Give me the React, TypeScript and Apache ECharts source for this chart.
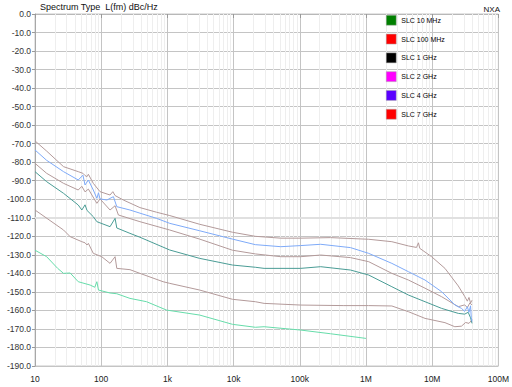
import React, { useEffect, useRef } from "react";
import * as echarts from "echarts";

const seriesNames = ["SLC 10 MHz", "SLC 100 MHz", "SLC 1 GHz", "SLC 2 GHz", "SLC 4 GHz", "SLC 7 GHz"];
const legendColors = ["#008000", "#ff0000", "#000000", "#ff00ff", "#5a00ff", "#ff0000"];
const lineColors = ["#66dcaa", "#b39a9a", "#4a9c95", "#b39a9a", "#7eaaf8", "#b39a9a"];

const xTickLabels = ["10", "100", "1k", "10k", "100k", "1M", "10M", "100M"];

// SLC 10 MHz
const f10M = [10, 15, 22, 27, 34, 45, 68, 80, 86, 91, 136, 172, 272, 485, 968, 3070, 9620, 21300, 28900, 103000, 292000, 1000000];
const v10M = [-127.5, -131, -137.3, -140, -139.8, -144.5, -146.3, -147.5, -144.5, -149, -150.6, -151, -153.5, -155.3, -159.8, -162.5, -167.5, -169.1, -168.8, -170.6, -172.6, -175.1];

// SLC 100 MHz
const f100M = [10, 27, 34, 51, 57, 61, 64, 76, 102, 136, 162, 172, 272, 385, 861, 1087, 3070, 9620, 21300, 28900, 103000, 463000, 1100000, 2460000, 4380000, 7800000, 15600000, 22000000, 27700000, 32000000, 36000000, 40000000];
const v100M = [-105.8, -116.6, -120.2, -122.9, -123.5, -124.7, -123.8, -129.2, -131, -134.6, -131, -137.3, -138, -140, -144.5, -145.4, -149, -154, -155.3, -156.2, -157.1, -157.4, -157.4, -157.6, -160.7, -164.3, -166.6, -168.8, -168.5, -166.5, -167, -165];

// SLC 1 GHz
const f1G = [10, 15, 27, 45, 51, 57, 61, 76, 86, 136, 162, 172, 272, 385, 1087, 3070, 9620, 21300, 28900, 103000, 207000, 584000, 1100000, 2460000, 4380000, 7800000, 13900000, 24800000, 31000000, 35000000, 38000000, 40000000];
const v1G = [-85.1, -90.5, -96.8, -103.1, -105.8, -103, -106, -109.4, -112.1, -114.8, -110.3, -115.5, -118.4, -120.5, -127.4, -131.9, -135.5, -136.7, -137.3, -137.3, -136.4, -138.2, -140.9, -147.2, -151.7, -155.3, -158.9, -161.6, -162, -161, -164, -167];

// SLC 2 GHz
const f2G = [10, 15, 27, 45, 51, 57, 64, 86, 96, 136, 162, 182, 385, 1087, 3070, 9620, 21300, 51700, 103000, 207000, 584000, 1100000, 2460000, 4380000, 7800000, 13900000, 24800000, 31000000, 34000000, 37000000, 40000000];
const v2G = [-80.6, -86, -91.4, -95, -93, -96, -94.5, -102.2, -99.8, -105.8, -103.5, -108.5, -112.1, -116.6, -121.5, -127.5, -129.5, -131, -131, -130.1, -131.5, -133.7, -140, -143.6, -148, -152.6, -158, -157, -158.5, -156, -157];

// SLC 4 GHz
const f4G = [10, 15, 27, 45, 53, 57, 64, 76, 86, 91, 96, 122, 153, 172, 272, 385, 686, 1087, 3070, 9620, 21300, 51700, 103000, 207000, 584000, 1100000, 2460000, 4380000, 7800000, 13900000, 22000000, 27700000, 31000000, 34000000, 36000000, 38000000, 39000000, 40000000];
const v4G = [-73.4, -79, -85.1, -89.6, -87, -92.3, -89.6, -95, -99.5, -96.5, -99.8, -100.4, -98.6, -104, -105.8, -107.5, -110.3, -113, -117, -121.5, -124.5, -125.6, -125, -124.3, -126.1, -129.2, -134.6, -139.1, -143.6, -149.9, -157, -158.9, -160.5, -158, -161, -157.5, -164, -166];

// SLC 7 GHz
const f7G = [10, 15, 27, 45, 53, 57, 61, 64, 76, 96, 136, 150, 162, 216, 385, 686, 1087, 3070, 9620, 21300, 51700, 103000, 292000, 1100000, 2460000, 4380000, 5800000, 6200000, 6500000, 9800000, 15600000, 24800000, 31200000, 34000000, 36000000, 38000000, 40000000];
const v7G = [-68.5, -74, -82.4, -85.1, -86, -87.2, -87.8, -86.5, -91.4, -95.9, -97.7, -95.9, -98, -100.4, -104.5, -107, -108.8, -113.5, -117.8, -120, -121, -121, -120.7, -121.6, -122.9, -125.2, -126, -123.5, -126.5, -131, -137.3, -146.8, -152.6, -155, -153, -156, -154.5];

const freqs = [f10M, f100M, f1G, f2G, f4G, f7G];
const values = [v10M, v100M, v1G, v2G, v4G, v7G];

const FONT = "Liberation Sans, Arial, sans-serif";

export default function App() {
  const ref = useRef<HTMLDivElement>(null);
  useEffect(() => {
    if (!ref.current) return;
    const chart = echarts.init(ref.current, null, { renderer: "svg" });

    const minorX: any[] = [];
    for (let d = 10; d < 1e8; d *= 10) {
      for (let k = 2; k <= 9; k++) minorX.push({ xAxis: d * k });
    }

    const series: any[] = seriesNames.map((name, i) => ({
      name,
      type: "line",
      data: freqs[i].map((f, j) => [f, values[i][j]]),
      showSymbol: false,
      symbol: "none",
      lineStyle: { color: lineColors[i], width: 1 },
      itemStyle: { color: lineColors[i] },
      z: 8,
    }));
    series.push({
      name: "grid",
      type: "line",
      data: [[10, null]],
      z: 1,
      silent: true,
      markLine: {
        silent: true,
        symbol: "none",
        label: { show: false },
        animation: false,
        lineStyle: { color: "#eeeeee", width: 1, type: "solid" },
        data: [
          ...minorX,
          { yAxis: -110, lineStyle: { color: "#e0e0e0", width: 2, type: "solid" } },
        ],
      },
    });

    chart.setOption({
      animation: false,
      backgroundColor: "#ffffff",
      textStyle: { fontFamily: FONT },
      title: [
        {
          text: "Spectrum Type  L(fm) dBc/Hz",
          left: 40,
          top: 2,
          padding: 0,
          textStyle: { fontSize: 9, fontWeight: "normal", color: "#111", fontFamily: FONT },
        },
        {
          text: "NXA",
          right: 12,
          top: 5,
          padding: 0,
          textStyle: { fontSize: 8, fontWeight: "normal", color: "#111", fontFamily: FONT },
        },
      ],
      legend: {
        orient: "vertical",
        left: 386,
        top: 15,
        padding: 0,
        z: 12,
        itemWidth: 10,
        itemHeight: 10,
        itemGap: 8.3,
        icon: "rect",
        textStyle: { fontSize: 7, color: "#000", fontFamily: FONT },
        data: seriesNames.map((n, i) => ({
          name: n,
          icon: "rect",
          itemStyle: { color: legendColors[i], borderColor: "#aaaaaa", borderWidth: 0.5 },
        })),
      },
      grid: {
        left: 35,
        top: 14,
        width: 466,
        height: 352,
        show: true,
        borderColor: "#c8c8c8",
        borderWidth: 1,
      },
      xAxis: {
        type: "log",
        logBase: 10,
        min: 10,
        max: 1e8,
        interval: 1,
        axisLine: { show: true, lineStyle: { color: "#b8b8b8" } },
        axisTick: { show: true, length: 4, lineStyle: { color: "#999" } },
        axisLabel: {
          fontSize: 8.5,
          color: "#222",
          margin: 8,
          formatter: (v: number) => xTickLabels[Math.round(Math.log10(v)) - 1] ?? "",
        },
        splitLine: { show: true, lineStyle: { color: "#c4c4c4", width: 1 } },
      },
      yAxis: {
        type: "value",
        min: -190,
        max: 0,
        interval: 10,
        axisLine: { show: true, lineStyle: { color: "#a8a8a8" } },
        axisTick: { show: true, length: 3, lineStyle: { color: "#999" } },
        axisLabel: {
          fontSize: 8.5,
          color: "#333",
          margin: 4,
          formatter: (v: number) => v.toFixed(1),
        },
        splitLine: { show: true, lineStyle: { color: "#c4c4c4", width: 1 } },
      },
      series,
    });
    return () => chart.dispose();
  }, []);
  return (
    <div
      ref={ref}
      style={{ position: "fixed", left: 0, top: 0, width: 512, height: 387, background: "#fff" }}
    />
  );
}
